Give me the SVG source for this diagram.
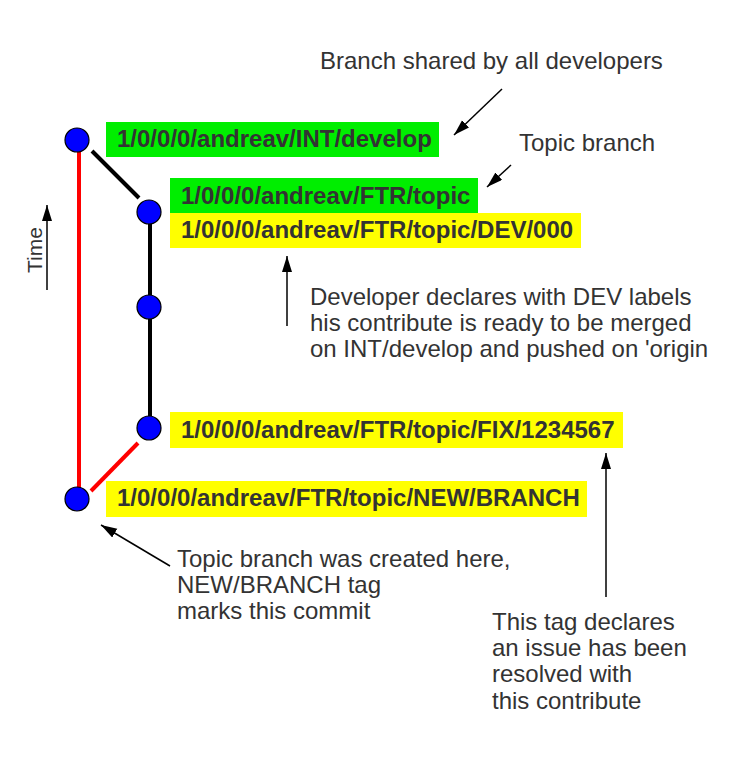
<svg xmlns="http://www.w3.org/2000/svg" width="741" height="762" viewBox="0 0 741 762">
<style>
.lbl{font-family:"Liberation Sans",Arial,sans-serif;font-weight:bold;font-size:24px;fill:#333333}
.txt{font-family:"Liberation Sans",Arial,sans-serif;font-size:24px;fill:#333333}
.node{fill:#0000ff;stroke:#000;stroke-width:1.2}
.green{fill:#00ee00}
.yellow{fill:#ffff00}
.arr{stroke:#000;stroke-width:1.5;fill:none;marker-end:url(#ah)}
</style>
<defs>
<marker id="ah" markerUnits="userSpaceOnUse" markerWidth="17" markerHeight="11" refX="16" refY="5" orient="auto">
<path d="M0,0 L16,5 L0,10 z" fill="#000"/>
</marker>
</defs>
<rect width="741" height="762" fill="#fff"/>
<g id="connectors">
<line x1="79" y1="152" x2="79" y2="488" stroke="#ff0000" stroke-width="4"/>
<line x1="92" y1="151" x2="139" y2="198" stroke="#000" stroke-width="4"/>
<line x1="150" y1="223" x2="150" y2="295" stroke="#000" stroke-width="4"/>
<line x1="150" y1="319" x2="150" y2="416" stroke="#000" stroke-width="4"/>
<line x1="138" y1="443" x2="91" y2="491" stroke="#ff0000" stroke-width="4"/>
<line class="arr" x1="47" y1="290" x2="47" y2="205"/>
<line class="arr" x1="502" y1="89" x2="454" y2="135"/>
<line class="arr" x1="511" y1="165" x2="487" y2="187"/>
<line class="arr" x1="287" y1="326" x2="287" y2="256"/>
<line class="arr" x1="606" y1="597" x2="606" y2="453"/>
<line class="arr" x1="170" y1="566" x2="101" y2="525"/>
</g>
<g id="n-develop">
<circle class="node" cx="77" cy="140" r="12"/>
<rect class="green" x="106" y="122" width="333" height="35"/>
<text class="lbl" x="117" y="147">1/0/0/0/andreav/INT/develop</text>
</g>
<g id="n-topic">
<circle class="node" cx="149" cy="212" r="12"/>
<rect class="green" x="170" y="178" width="308" height="35"/>
<text class="lbl" x="181" y="204">1/0/0/0/andreav/FTR/topic</text>
<rect class="yellow" x="170" y="213" width="411" height="35"/>
<text class="lbl" x="181" y="238">1/0/0/0/andreav/FTR/topic/DEV/000</text>
</g>
<g id="n-mid">
<circle class="node" cx="149" cy="307" r="12"/>
</g>
<g id="n-fix">
<circle class="node" cx="149" cy="428" r="12"/>
<rect class="yellow" x="170" y="412" width="453" height="36"/>
<text class="lbl" x="181" y="438">1/0/0/0/andreav/FTR/topic/FIX/1234567</text>
</g>
<g id="n-new">
<circle class="node" cx="77" cy="499" r="12"/>
<rect class="yellow" x="106" y="481" width="481" height="36"/>
<text class="lbl" x="117" y="506">1/0/0/0/andreav/FTR/topic/NEW/BRANCH</text>
</g>
<g id="annotations">
<text class="txt" x="320" y="69">Branch shared by all developers</text>
<text class="txt" x="519" y="151">Topic branch</text>
<text class="txt" x="310" y="305">Developer declares with DEV labels</text>
<text class="txt" x="310" y="331">his contribute is ready to be merged</text>
<text class="txt" x="310" y="357">on INT/develop and pushed on 'origin</text>
<text class="txt" x="177" y="567">Topic branch was created here,</text>
<text class="txt" x="177" y="593">NEW/BRANCH tag</text>
<text class="txt" x="177" y="619">marks this commit</text>
<text class="txt" x="492" y="630">This tag declares</text>
<text class="txt" x="492" y="656">an issue has been</text>
<text class="txt" x="492" y="682">resolved with</text>
<text class="txt" x="492" y="709">this contribute</text>
<text class="txt" style="font-size:21px" transform="translate(42,273) rotate(-90)">Time</text>
</g>
</svg>
